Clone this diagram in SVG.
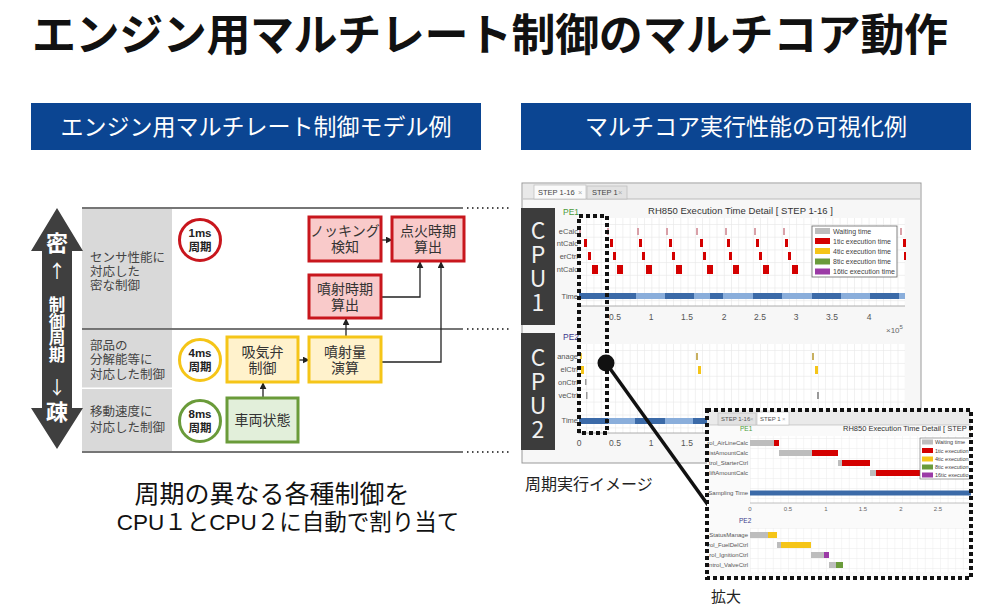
<svg xmlns="http://www.w3.org/2000/svg" width="991" height="614" viewBox="0 0 991 614">
<defs>
<style>
.jp{font-family:"Liberation Sans","Noto Sans CJK JP",sans-serif}
.cj{font-family:"Noto Sans CJK JP","Noto Sans",sans-serif}
.t{font-family:"Liberation Sans","DejaVu Sans",sans-serif}
.vt{writing-mode:vertical-rl;text-orientation:upright}
.hdr{fill:#0b4592}
.hl{stroke:#4a4a4a;stroke-width:1.5;fill:none}
.dl{stroke:#4a4a4a;stroke-width:1.8;stroke-dasharray:1.5 3.5;fill:none}
.gc{fill:#d9d9d9}
.gt{font-size:12.5px;fill:#444}
.rb{fill:#f9caca;stroke:#c8161d;stroke-width:3}
.yb{fill:#fff2cc;stroke:#f5c518;stroke-width:3}
.gb{fill:#e2efda;stroke:#6a9b3a;stroke-width:3}
.bt{font-size:14px;fill:#333;text-anchor:middle}
.ct{font-size:11.5px;font-weight:bold;fill:#222;text-anchor:middle}
.con{stroke:#222;stroke-width:1.3;fill:none;marker-end:url(#ah)}
.cpu{fill:#3c3c3c}
.cpt{font-size:23px;fill:#f0f0f0;letter-spacing:1px}
.lab{font-size:7.5px;fill:#555;text-anchor:end}
.tick{font-size:8.5px;fill:#555;text-anchor:middle}
.lg{font-size:7px;fill:#444}
.sel{fill:none;stroke:#111;stroke-width:4;stroke-dasharray:4 3}
.wt{fill:#bdbdbd}.r1{fill:#d40000}.y4{fill:#f5c518}.g8{fill:#6a9b3a}.p16{fill:#9b3aa6}
.dk{fill:#3b6aa8}.lt{fill:#8aaedb}
</style>
<marker id="ah" viewBox="0 0 10 10" refX="9" refY="5" markerWidth="7" markerHeight="7" orient="auto" markerUnits="userSpaceOnUse"><path d="M0,0L10,5L0,10z" fill="#222"/></marker>
<pattern id="g1" patternUnits="userSpaceOnUse" x="579" y="224" width="7.24" height="12.7"><path d="M0.3,0V12.7M0,0.3H7.24" stroke="#e6e6e6" stroke-width="0.7"/></pattern>
<pattern id="g2" patternUnits="userSpaceOnUse" x="579" y="350" width="7.24" height="12.9"><path d="M0.3,0V12.9M0,0.3H7.24" stroke="#e6e6e6" stroke-width="0.7"/></pattern>
<pattern id="g3" patternUnits="userSpaceOnUse" x="750" y="438" width="7.6" height="10"><path d="M0.3,0V10M0,0.3H7.6" stroke="#ececec" stroke-width="0.6"/></pattern>
<clipPath id="insetClip"><rect x="707" y="410" width="264" height="168"/></clipPath>
</defs>

<rect width="991" height="614" fill="#ffffff"/>

<g id="title">
<text class="jp" x="32" y="51" font-size="44" font-weight="bold" fill="#111" textLength="916" lengthAdjust="spacing">エンジン用マルチレート制御のマルチコア動作</text>
</g>

<g id="header-left">
<rect class="hdr" x="31" y="103" width="450" height="47"/>
<text class="jp" x="256" y="135" font-size="23" fill="#fff" text-anchor="middle">エンジン用マルチレート制御モデル例</text>
</g>
<g id="header-right">
<rect class="hdr" x="521" y="103" width="450" height="47"/>
<text class="jp" x="746" y="135" font-size="23" fill="#fff" text-anchor="middle">マルチコア実行性能の可視化例</text>
</g>

<g id="rate-table">
<rect class="gc" x="82" y="209" width="90" height="119.5"/>
<rect class="gc" x="82" y="330" width="90" height="57.5"/>
<rect class="gc" x="82" y="389" width="90" height="62"/>
<path class="hl" d="M82,208H463M82,329H463M82,452H463"/>
<path class="dl" d="M467,208H512M467,329H512M467,452H512"/>
<text class="jp gt"><tspan x="90" y="262">センサ性能に</tspan><tspan x="90" y="276">対応した</tspan><tspan x="90" y="290">密な制御</tspan></text>
<text class="jp gt"><tspan x="90" y="350">部品の</tspan><tspan x="90" y="364">分解能等に</tspan><tspan x="90" y="378.5">対応した制御</tspan></text>
<text class="jp gt"><tspan x="90" y="416">移動速度に</tspan><tspan x="90" y="432">対応した制御</tspan></text>
</g>

<g id="period-arrow">
<polygon points="57,208 83,251 72,251 72,408 83,408 57,449 31,408 42,408 42,251 31,251" fill="#3f3f3f"/>
<text class="jp" x="57" y="251" font-size="22" font-weight="bold" fill="#fff" text-anchor="middle">密</text>
<text class="cj" x="57" y="278" font-size="18" fill="#fff" text-anchor="middle">↑</text>
<text class="cj vt" x="57" y="296.5" font-size="16.5" font-weight="bold" fill="#fff" letter-spacing="0.2">制御周期</text>
<text class="cj" x="57" y="394" font-size="18" fill="#fff" text-anchor="middle">↓</text>
<text class="jp" x="57" y="420" font-size="22" font-weight="bold" fill="#fff" text-anchor="middle">疎</text>
</g>

<g id="period-1ms">
<circle cx="200" cy="240" r="20.5" fill="#fff" stroke="#c8161d" stroke-width="3"/>
<text class="jp ct"><tspan x="200" y="237">1ms</tspan><tspan x="200" y="251">周期</tspan></text>
</g>
<g id="period-4ms">
<circle cx="200" cy="360" r="20.5" fill="#fff" stroke="#f5c518" stroke-width="3"/>
<text class="jp ct"><tspan x="200" y="357">4ms</tspan><tspan x="200" y="371">周期</tspan></text>
</g>
<g id="period-8ms">
<circle cx="200" cy="421" r="20.5" fill="#fff" stroke="#6a9b3a" stroke-width="3"/>
<text class="jp ct"><tspan x="200" y="418">8ms</tspan><tspan x="200" y="432">周期</tspan></text>
</g>

<g id="connectors">
<path class="con" d="M381,240H392"/>
<path class="con" d="M381,297H420V262"/>
<path class="con" d="M381,362H441V262"/>
<path class="con" d="M346,337V319"/>
<path class="con" d="M298,360H309"/>
<path class="con" d="M263,398V383"/>
</g>

<g id="knock">
<rect class="rb" x="309" y="217" width="72" height="44"/>
<text class="jp bt"><tspan x="345" y="236">ノッキング</tspan><tspan x="345" y="252">検知</tspan></text>
</g>
<g id="ignition">
<rect class="rb" x="392" y="217" width="72" height="44"/>
<text class="jp bt"><tspan x="428" y="236">点火時期</tspan><tspan x="428" y="252">算出</tspan></text>
</g>
<g id="injection-timing">
<rect class="rb" x="309" y="275" width="72" height="43"/>
<text class="jp bt"><tspan x="345" y="293.5">噴射時期</tspan><tspan x="345" y="309.5">算出</tspan></text>
</g>
<g id="intake-valve">
<rect class="yb" x="227" y="337" width="71" height="45"/>
<text class="jp bt"><tspan x="262.5" y="356.5">吸気弁</tspan><tspan x="262.5" y="372.5">制御</tspan></text>
</g>
<g id="injection-amount">
<rect class="yb" x="309" y="337" width="72" height="45"/>
<text class="jp bt"><tspan x="345" y="356.5">噴射量</tspan><tspan x="345" y="372.5">演算</tspan></text>
</g>
<g id="vehicle-state">
<rect class="gb" x="227" y="398" width="71" height="44"/>
<text class="jp bt" x="262.5" y="425">車両状態</text>
</g>

<g id="caption-left">
<text class="jp" fill="#111" text-anchor="middle"><tspan x="272" y="503" font-size="25">周期の異なる各種制御を</tspan><tspan x="288" y="530" font-size="22.5">CPU１とCPU２に自動で割り当て</tspan></text>
</g>

<g id="screenshot">
<rect x="522" y="183" width="399" height="280" fill="#f7f7f7" stroke="#999" stroke-width="1"/>
<rect x="523" y="184" width="397" height="15" fill="#e9e9e9"/>
<line x1="523" y1="199" x2="920" y2="199" stroke="#bbb"/>
<rect x="534" y="185" width="52" height="14" fill="#fafafa" stroke="#bbb" stroke-width="0.7"/>
<rect x="587" y="186" width="40" height="13" fill="#e2e2e2" stroke="#bbb" stroke-width="0.7"/>
<text class="t" font-size="7.5" fill="#444"><tspan x="538" y="194.5">STEP 1-16</tspan><tspan x="578" y="194.5" fill="#aaa">×</tspan><tspan x="592" y="194.5">STEP 1</tspan><tspan x="618" y="194.5" fill="#aaa">×</tspan></text>
<text class="t" x="563" y="215" font-size="8.5" fill="#4a9a3a">PE1</text>
<text class="t" x="648" y="214" font-size="9.5" fill="#333" textLength="185">RH850 Execution Time Detail  [ STEP 1-16 ]</text>
<rect x="578" y="218" width="327" height="88" fill="#fff"/>
<rect x="578" y="218" width="327" height="88" fill="url(#g1)"/>
<line x1="578" y1="306" x2="905" y2="306" stroke="#999" stroke-width="0.8"/>
<text class="t lab"><tspan x="578" y="234">eCalc</tspan><tspan x="578" y="246">ntCalc</tspan><tspan x="578" y="259">erCtrl</tspan><tspan x="578" y="272">ntCalc</tspan><tspan x="578" y="299">Time</tspan></text>
<g fill="#d9a0a8">
<rect x="579" y="228" width="2" height="7"/><rect x="607" y="228" width="2" height="7"/><rect x="637" y="228" width="2" height="7"/><rect x="666" y="228" width="2" height="7"/><rect x="696" y="228" width="2" height="7"/><rect x="725" y="228" width="2" height="7"/><rect x="754" y="228" width="2" height="7"/><rect x="783" y="228" width="2" height="7"/><rect x="900" y="228" width="2" height="7"/>
</g>
<g class="r1">
<rect x="584" y="239" width="3" height="8"/><rect x="610" y="239" width="3" height="8"/><rect x="639" y="239" width="3" height="8"/><rect x="669" y="239" width="3" height="8"/><rect x="700" y="239" width="3" height="8"/><rect x="727" y="239" width="3" height="8"/><rect x="756" y="239" width="3" height="8"/><rect x="785" y="239" width="3" height="8"/><rect x="903" y="239" width="3" height="8"/>
<rect x="588" y="252" width="3" height="8"/><rect x="613" y="252" width="3" height="8"/><rect x="642" y="252" width="3" height="8"/><rect x="672" y="252" width="3" height="8"/><rect x="703" y="252" width="3" height="8"/><rect x="729" y="252" width="3" height="8"/><rect x="759" y="252" width="3" height="8"/><rect x="788" y="252" width="3" height="8"/><rect x="904" y="252" width="2" height="8"/>
<rect x="592" y="265" width="6" height="9"/><rect x="617" y="265" width="6" height="9"/><rect x="646" y="265" width="6" height="9"/><rect x="676" y="265" width="6" height="9"/><rect x="707" y="265" width="6" height="9"/><rect x="733" y="265" width="6" height="9"/><rect x="763" y="265" width="6" height="9"/><rect x="792" y="265" width="6" height="9"/>
</g>
<rect class="lt" x="579" y="293" width="326" height="6"/>
<rect class="dk" x="579" y="293" width="57" height="6"/>
<rect class="dk" x="665" y="293" width="29" height="6"/>
<rect class="dk" x="710" y="293" width="13" height="6"/>
<rect class="dk" x="753" y="293" width="29" height="6"/>
<rect class="dk" x="812" y="293" width="29" height="6"/>
<rect class="dk" x="870" y="293" width="29" height="6"/>
<g id="legend1">
<rect x="812" y="226" width="85" height="51" fill="#fff" stroke="#666" stroke-width="0.8"/>
<rect class="wt" x="815" y="228" width="15" height="6"/>
<rect class="r1" x="815" y="238" width="15" height="6"/>
<rect class="y4" x="815" y="248" width="15" height="6"/>
<rect class="g8" x="815" y="258.5" width="15" height="6"/>
<rect class="p16" x="815" y="268.5" width="15" height="6"/>
<text class="t lg"><tspan x="833" y="233.5">Waiting time</tspan><tspan x="833" y="243.5">1tic execution time</tspan><tspan x="833" y="253.5">4tic execution time</tspan><tspan x="833" y="264">8tic execution time</tspan><tspan x="833" y="274">16tic execution time</tspan></text>
</g>
<text class="t tick"><tspan x="615" y="320">0.5</tspan><tspan x="651" y="320">1</tspan><tspan x="687" y="320">1.5</tspan><tspan x="724" y="320">2</tspan><tspan x="760" y="320">2.5</tspan><tspan x="796" y="320">3</tspan><tspan x="832" y="320">3.5</tspan><tspan x="869" y="320">4</tspan></text>
<text class="t" x="886" y="333" font-size="8" fill="#666">×10<tspan dy="-4" font-size="6">5</tspan></text>

<text class="t" x="563" y="340" font-size="8.5" fill="#3a3a8c">PE2</text>
<rect x="578" y="344" width="327" height="89" fill="#fff"/>
<rect x="578" y="344" width="327" height="89" fill="url(#g2)"/>
<line x1="578" y1="433" x2="905" y2="433" stroke="#999" stroke-width="0.8"/>
<text class="t lab"><tspan x="578" y="359">anage</tspan><tspan x="578" y="372">elCtrl</tspan><tspan x="578" y="385">onCtrl</tspan><tspan x="578" y="398">veCtrl</tspan><tspan x="578" y="423">Time</tspan></text>
<rect x="580" y="353" width="2" height="6" fill="#e8c84a"/>
<rect x="696" y="353" width="2" height="7" fill="#c8b060"/>
<rect x="812" y="353" width="2" height="7" fill="#c8b060"/>
<rect class="y4" x="581" y="366" width="3" height="8"/>
<rect class="y4" x="698" y="366" width="3" height="8"/>
<rect class="y4" x="815" y="366" width="3" height="8"/>
<rect x="585" y="379" width="1.5" height="6" fill="#999"/>
<rect x="586" y="392" width="1.5" height="7" fill="#999"/>
<rect x="817" y="392" width="2" height="7" fill="#999"/>
<rect class="lt" x="579" y="418" width="326" height="6"/>
<rect class="dk" x="579" y="418" width="29" height="6"/>
<rect class="dk" x="635" y="418" width="30" height="6"/>
<rect class="dk" x="693" y="418" width="29" height="6"/>
<text class="t tick"><tspan x="579" y="446">0</tspan><tspan x="615" y="446">0.5</tspan><tspan x="651" y="446">1</tspan><tspan x="687" y="446">1.5</tspan></text>
</g>

<g id="cpu1">
<rect class="cpu" x="521" y="208" width="34" height="117"/>
<text class="cj vt cpt" x="538" y="218.5">CPU1</text>
</g>
<g id="cpu2">
<rect class="cpu" x="521" y="333" width="34" height="117"/>
<text class="cj vt cpt" x="538" y="345.5">CPU2</text>
</g>

<g id="selection">
<rect class="sel" x="579" y="216" width="28" height="217"/>
<line x1="606" y1="363" x2="708" y2="505" stroke="#111" stroke-width="3.5"/>
<circle cx="606" cy="363" r="8.5" fill="#111"/>
</g>

<text class="jp" x="525" y="490" font-size="16" fill="#222">周期実行イメージ</text>

<g id="inset">
<g clip-path="url(#insetClip)">
<rect x="707" y="410" width="264" height="168" fill="#fafafa"/>
<rect x="707" y="410" width="264" height="15" fill="#eaeaea"/>
<line x1="707" y1="425" x2="971" y2="425" stroke="#bbb" stroke-width="0.7"/>
<rect x="718" y="413" width="38" height="12" fill="#e2e2e2" stroke="#bbb" stroke-width="0.6"/>
<rect x="757" y="412" width="32" height="13" fill="#fff" stroke="#bbb" stroke-width="0.6"/>
<text class="t" font-size="6" fill="#555"><tspan x="721" y="421">STEP 1-16</tspan><tspan x="750" y="421" fill="#aaa">×</tspan><tspan x="760" y="421">STEP 1</tspan><tspan x="782" y="421" fill="#aaa">×</tspan></text>
<text class="t" x="740" y="431" font-size="6.5" fill="#4a9a3a">PE1</text>
<text class="t" x="843" y="431" font-size="7.5" fill="#333">RH850 Execution Time Detail  [ STEP 1-</text>
<rect x="750" y="436" width="221" height="67" fill="#fff"/>
<rect x="750" y="436" width="221" height="67" fill="url(#g3)"/>
<line x1="750" y1="503" x2="971" y2="503" stroke="#999" stroke-width="0.6"/>
<text class="t" font-size="6" fill="#555" text-anchor="end"><tspan x="748" y="445">rol_AirLineCalc</tspan><tspan x="748" y="455">istAmountCalc</tspan><tspan x="748" y="465">trol_StarterCtrl</tspan><tspan x="748" y="475">liftAmountCalc</tspan><tspan x="748" y="495">Sampling Time</tspan></text>
<rect class="wt" x="750" y="440" width="24" height="6"/><rect class="r1" x="774" y="440" width="5" height="6"/>
<rect class="wt" x="779" y="450" width="33" height="6"/><rect class="r1" x="812" y="450" width="26" height="6"/>
<rect class="wt" x="838" y="460" width="4" height="6"/><rect class="r1" x="842" y="460" width="28" height="6"/>
<rect class="wt" x="870" y="470" width="6" height="6"/><rect class="r1" x="876" y="470" width="44" height="6"/>
<rect class="dk" x="750" y="490.5" width="221" height="5"/>
<text class="t" font-size="6" fill="#666" text-anchor="middle"><tspan x="750" y="511">0</tspan><tspan x="788" y="511">0.5</tspan><tspan x="826" y="511">1</tspan><tspan x="863" y="511">1.5</tspan><tspan x="901" y="511">2</tspan><tspan x="938" y="511">2.5</tspan></text>
<g id="legend2">
<rect x="920" y="438" width="60" height="41" fill="#fff" stroke="#666" stroke-width="0.6"/>
<rect class="wt" x="922" y="439.5" width="11" height="5"/>
<rect class="r1" x="922" y="448" width="11" height="5"/>
<rect class="y4" x="922" y="456.5" width="11" height="5"/>
<rect class="g8" x="922" y="464.5" width="11" height="5"/>
<rect class="p16" x="922" y="472.5" width="11" height="5"/>
<text class="t" font-size="5.5" fill="#444"><tspan x="935" y="444">Waiting time</tspan><tspan x="935" y="452.5">1tic execution</tspan><tspan x="935" y="461">4tic execution</tspan><tspan x="935" y="469">8tic execution</tspan><tspan x="935" y="477">16tic executio</tspan></text>
</g>
<text class="t" x="739" y="523" font-size="6.5" fill="#3a3a8c">PE2</text>
<rect x="750" y="528" width="221" height="44" fill="#fff"/>
<rect x="750" y="528" width="221" height="44" fill="url(#g3)"/>
<text class="t" font-size="6" fill="#555" text-anchor="end"><tspan x="748" y="537">_StatusManage</tspan><tspan x="748" y="547">trol_FuelDelCtrl</tspan><tspan x="748" y="557">rol_IgnitionCtrl</tspan><tspan x="748" y="567">ntrol_ValveCtrl</tspan></text>
<rect class="wt" x="750" y="532" width="18" height="6"/><rect class="y4" x="768" y="532" width="9" height="6"/>
<rect class="wt" x="777" y="542" width="4" height="6"/><rect class="y4" x="781" y="542" width="30" height="6"/>
<rect class="wt" x="811" y="552" width="13" height="6"/><rect class="p16" x="824" y="552" width="5" height="6"/>
<rect class="wt" x="829" y="562" width="7" height="6"/><rect class="g8" x="836" y="562" width="7" height="6"/>
</g>
<rect class="sel" x="707" y="410" width="264" height="168"/>
</g>

<text class="jp" x="711" y="602" font-size="15" fill="#222">拡大</text>
</svg>
